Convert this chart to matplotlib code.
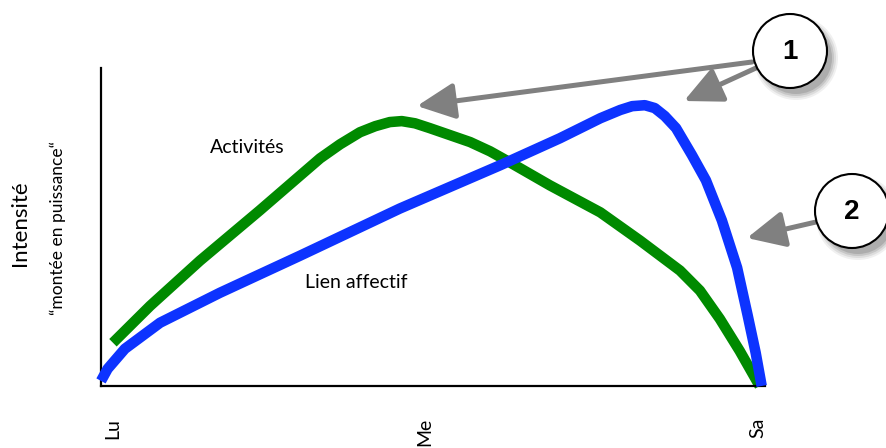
import matplotlib.pyplot as plt
from matplotlib.patches import Circle, FancyArrowPatch

# x: 0 (Lu) .. 100 (Sa), y: intensity 0..100
blue_x = [0, 1.0, 3.6, 8.9, 17.9, 30.0, 45.0, 60.1, 69.1, 75.2, 78.2, 80.0, 81.9, 83.4, 84.9, 86.6, 89.0, 91.1, 93.5, 95.8, 97.4, 98.6, 99.5]
blue_y = [1.6, 5.4, 11.7, 19.9, 29.3, 41.0, 55.8, 69.4, 77.9, 84.2, 86.8, 88.0, 88.3, 87.4, 84.9, 81.1, 72.6, 64.7, 52.1, 37.2, 22.1, 10.4, 0]

green_x = [1.8, 7.4, 14.9, 23.9, 30.0, 33.0, 36.0, 39.0, 41.3, 43.5, 45.3, 47.3, 49.5, 55.6, 58.6, 61.6, 67.6, 75.2, 81.2, 87.2, 90.2, 93.2, 96.2, 99.2]
green_y = [13.6, 25.2, 39.4, 55.2, 66.2, 71.6, 76.0, 79.8, 81.7, 83.0, 83.3, 82.6, 81.1, 76.7, 73.8, 70.3, 63.1, 54.6, 45.7, 36.3, 30.0, 21.1, 11.0, 0]

days = ["Lu", "Me", "Sa"]
day_pos = [1.7, 48.8, 98.9]

W, H = 887, 448
fig = plt.figure(figsize=(W / 100, H / 100), dpi=100)
plt.rcParams['font.family'] = ['Lato', 'DejaVu Sans']

ax = fig.add_axes([101 / W, (H - 386) / H, 664 / W, 318 / H])
ax.set_xlim(0, 100)
ax.set_ylim(0, 100)
ax.spines['top'].set_visible(False)
ax.spines['right'].set_visible(False)
ax.spines['left'].set_linewidth(1.6)
ax.spines['bottom'].set_linewidth(1.6)
ax.set_xticks([])
ax.set_yticks([])

ax.plot(blue_x, blue_y, color='#0D33FF', lw=7.6, solid_capstyle='butt', solid_joinstyle='round', clip_on=False, zorder=3)
ax.plot(green_x, green_y, color='#008A00', lw=7.6, solid_capstyle='butt', solid_joinstyle='round', clip_on=False, zorder=2)

ax.text(22, 75, "Activités", fontsize=14, ha='center', va='center')
ax.text(38.5, 32.5, "Lien affectif", fontsize=14, ha='center', va='center')

# overlay in pixel coordinates for labels, arrows and circles
ov = fig.add_axes([0, 0, 1, 1])
ov.set_xlim(0, W)
ov.set_ylim(H, 0)
ov.axis('off')
ov.patch.set_alpha(0)

ov.text(20, 223, "Intensité", fontsize=16, rotation=90, ha='center', va='center')
ov.text(58, 228, "\u201cmontée en puissance\u201c", fontsize=12.5, rotation=90, ha='center', va='center')

for d, p in zip(days, day_pos):
    px = 101 + p * 6.64
    ov.text(px, 418, d, fontsize=14, rotation=90, ha='center', va='top')

grey = '#808080'
arrows = [((752, 62), (417, 106)), ((756, 68), (684, 101)), ((816, 222), (747, 238))]
for start, tip in arrows:
    ov.add_patch(FancyArrowPatch(start, tip, arrowstyle='-|>,head_length=1.15,head_width=0.55',
                                 mutation_scale=20, lw=3.6, color=grey, shrinkA=0, shrinkB=0))

for (cx, cy), label in [((790, 51), "1"), ((852, 211), "2")]:
    for k, a in enumerate([0.06, 0.08, 0.1, 0.12]):
        ov.add_patch(Circle((cx + 6, cy + 7), 42 - k * 2, color='black', alpha=a, lw=0))
    ov.add_patch(Circle((cx, cy), 37, facecolor='white', edgecolor='black', lw=1.5))
    ov.text(cx, cy + 1, label, fontsize=20, fontweight='bold', ha='center', va='center', family='Liberation Sans')

fig.savefig('out.png', dpi=100)
